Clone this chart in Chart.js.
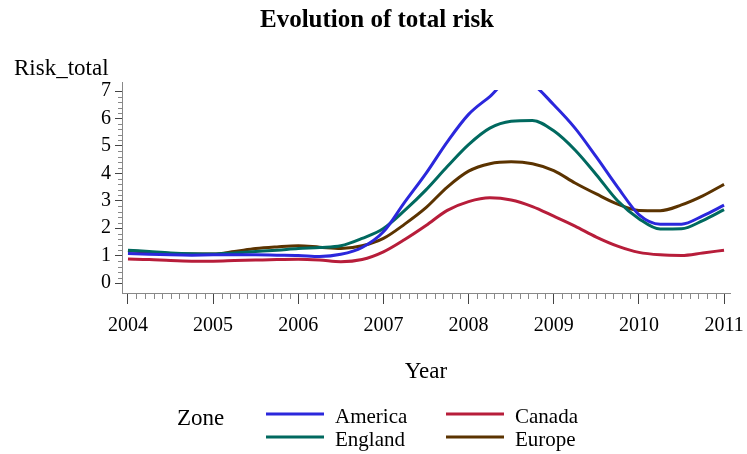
<!DOCTYPE html>
<html>
<head>
<meta charset="utf-8">
<script src="https://cdn.jsdelivr.net/npm/chart.js@4"></script>
<style>
  body { margin: 0; background: #fff; }
  #wrap { width: 747px; height: 454px; }
</style>
</head>
<body>
<div id="wrap"><canvas id="myChart"></canvas></div>
<script>
const years = [2004, 2004.25, 2004.5, 2004.75, 2005, 2005.25, 2005.5, 2005.75, 2006, 2006.25, 2006.5, 2006.75,
    2007, 2007.25, 2007.5, 2007.75, 2008, 2008.25, 2008.5, 2008.75, 2009, 2009.25, 2009.5, 2009.75,
    2010, 2010.25, 2010.5, 2010.75, 2011];
const america = [1.08, 1.05, 1.03, 1.02, 1.03, 1.03, 1.03, 1.02, 1.01, 0.97, 1.05, 1.3,
    1.87, 2.95, 4.0, 5.15, 6.15, 6.8, 7.45, 7.25, 6.5, 5.65, 4.6, 3.5,
    2.5, 2.15, 2.15, 2.45, 2.84];
const canada = [0.88, 0.86, 0.82, 0.8, 0.8, 0.82, 0.84, 0.86, 0.87, 0.84, 0.78, 0.86,
    1.14, 1.59, 2.1, 2.65, 2.97, 3.11, 3.03, 2.79, 2.44, 2.08, 1.68, 1.35,
    1.12, 1.03, 1.01, 1.1, 1.2];
const england = [1.2, 1.15, 1.1, 1.07, 1.06, 1.1, 1.15, 1.2, 1.26, 1.3, 1.36, 1.63,
    1.99, 2.65, 3.4, 4.25, 5.05, 5.65, 5.9, 5.93, 5.55, 4.85, 3.95, 3.0,
    2.35, 1.97, 1.98, 2.28, 2.68];
const europe = [1.18, 1.12, 1.08, 1.06, 1.06, 1.15, 1.26, 1.32, 1.36, 1.31, 1.26, 1.36,
    1.63, 2.15, 2.75, 3.5, 4.08, 4.35, 4.42, 4.35, 4.1, 3.65, 3.25, 2.88,
    2.65, 2.64, 2.85, 3.18, 3.6];
const zones = ["America", "Canada", "England", "Europe"];
const colors = ["#2b27dc", "#b71d3a", "#00695f", "#5b3300"];
const xTicks = [2004, 2005, 2006, 2007, 2008, 2009, 2010, 2011];
const yTicks = [0, 1, 2, 3, 4, 5, 6, 7];

const serif = "'Liberation Serif', 'Times New Roman', serif";

const toPoints = vals => years.map((x, i) => ({ x: x, y: vals[i] }));

// clip series at y = 7 (top tick), like the original
const clipPlugin = {
    id: "clip7",
    beforeDatasetsDraw(chart) {
        const { ctx, chartArea } = chart;
        const y7 = chart.scales.y.getPixelForValue(7);
        ctx.save();
        ctx.beginPath();
        ctx.rect(chartArea.left, y7 - 1, chartArea.right - chartArea.left, chartArea.bottom - y7 + 1);
        ctx.clip();
    },
    afterDatasetsDraw(chart) {
        chart.ctx.restore();
    },
};

// minor ticks, titles and legend
const decoPlugin = {
    id: "deco",
    afterDraw(chart) {
        const { ctx, chartArea } = chart;
        const xs = chart.scales.x;
        const ys = chart.scales.y;
        ctx.save();
        ctx.strokeStyle = "#888";
        ctx.lineWidth = 1;
        for (let i = 0; i < xTicks.length - 1; i++) {
            for (let k = 1; k < 10; k++) {
                const px = Math.round(xs.getPixelForValue(xTicks[i] + k / 10)) + 0.5;
                ctx.beginPath();
                ctx.moveTo(px, chartArea.bottom);
                ctx.lineTo(px, chartArea.bottom + 6);
                ctx.stroke();
            }
        }
        for (let i = 0; i < yTicks.length - 1; i++) {
            for (let k = 1; k < 5; k++) {
                const py = Math.round(ys.getPixelForValue(yTicks[i] + k / 5)) + 0.5;
                ctx.beginPath();
                ctx.moveTo(chartArea.left - 4, py);
                ctx.lineTo(chartArea.left, py);
                ctx.stroke();
            }
        }

        ctx.fillStyle = "#000";
        ctx.textBaseline = "alphabetic";
        ctx.textAlign = "center";
        ctx.font = "bold 25px " + serif;
        ctx.fillText("Evolution of total risk", 377, 27);

        ctx.font = "23px " + serif;
        ctx.textAlign = "left";
        ctx.fillText("Risk_total", 14, 75);
        ctx.textAlign = "center";
        ctx.fillText("Year", (chartArea.left + chartArea.right) / 2, 378);

        ctx.textAlign = "left";
        ctx.fillText("Zone", 177, 425);
        ctx.font = "21px " + serif;
        const cols = [266, 446];
        const rows = [414, 437];
        chart.data.datasets.forEach((ds, i) => {
            const lx = cols[i % 2];
            const ly = rows[Math.floor(i / 2)];
            ctx.strokeStyle = ds.borderColor;
            ctx.lineWidth = 3;
            ctx.beginPath();
            ctx.moveTo(lx, ly);
            ctx.lineTo(lx + 58, ly);
            ctx.stroke();
            ctx.fillText(ds.label, lx + 69, ly + 9);
        });
        ctx.restore();
    },
};

const ctx = document.getElementById("myChart").getContext("2d");
const chart = new Chart(ctx, {
    type: "line",
    data: {
        datasets: [america, canada, england, europe].map((vals, i) => ({
            label: zones[i],
            data: toPoints(vals),
            borderColor: colors[i],
            backgroundColor: colors[i],
            borderWidth: 3,
            pointRadius: 0,
            cubicInterpolationMode: "monotone",
            fill: false,
        })),
    },
    options: {
        responsive: true,
        maintainAspectRatio: false,
        animation: false,
        layout: { padding: { top: 82, right: 17, left: 0, bottom: 0 } },
        plugins: {
            legend: { display: false },
            title: { display: false },
            tooltip: { enabled: false },
        },
        scales: {
            x: {
                type: "linear",
                min: 2003.93,
                max: 2011.07,
                afterFit: scale => {
                    scale.height = 161;
                    scale.paddingLeft = 0;
                    scale.paddingRight = 0;
                },
                grid: { drawOnChartArea: false, tickLength: 11, tickColor: "#444" },
                border: { color: "#888" },
                ticks: {
                    stepSize: 1,
                    includeBounds: false,
                    autoSkip: false,
                    maxRotation: 0,
                    padding: 10,
                    color: "#000",
                    font: { family: serif, size: 20 },
                    callback: v => String(Math.round(v)),
                },
            },
            y: {
                min: -0.36,
                max: 7.33,
                afterFit: scale => {
                    scale.width = 122;
                    scale.paddingTop = 0;
                    scale.paddingBottom = 0;
                },
                grid: { drawOnChartArea: false, tickLength: 7, tickColor: "#444" },
                border: { color: "#888" },
                ticks: {
                    stepSize: 1,
                    includeBounds: false,
                    padding: 4,
                    color: "#000",
                    font: { family: serif, size: 20 },
                    callback: v => String(Math.round(v)),
                },
            },
        },
    },
    plugins: [clipPlugin, decoPlugin],
});
</script>
</body>
</html>
